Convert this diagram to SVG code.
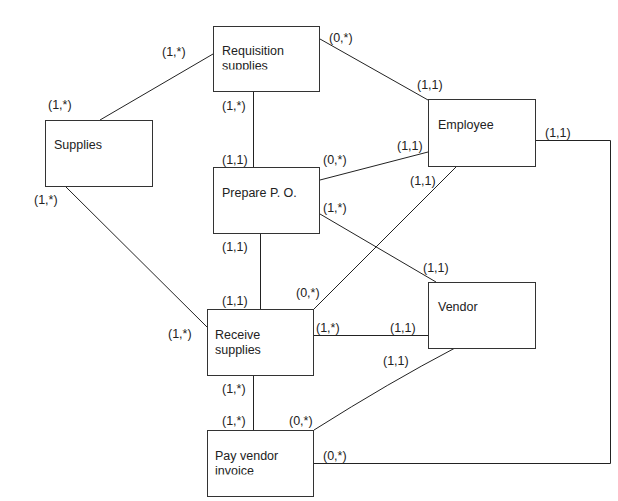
<svg xmlns="http://www.w3.org/2000/svg" width="618" height="501" viewBox="0 0 618 501">
<style>
.box{fill:#fff;stroke:#333;stroke-width:1}
.ln{fill:none;stroke:#222;stroke-width:1}
text{font-family:"Liberation Sans",Arial,sans-serif;font-size:12.5px;fill:#222}
</style>
<defs>
<clipPath id="c1"><rect x="213" y="26" width="107" height="43.5"/></clipPath>
<clipPath id="c2"><rect x="207" y="430" width="107" height="44.5"/></clipPath>
</defs>
<rect width="618" height="501" fill="#fff"/>
<g id="connectors">
<line class="ln" x1="100" y1="120" x2="213" y2="54"/>
<line class="ln" x1="253.5" y1="92" x2="253.5" y2="167"/>
<line class="ln" x1="320" y1="39" x2="428" y2="100"/>
<line class="ln" x1="320" y1="180" x2="428" y2="152"/>
<line class="ln" x1="456" y1="167" x2="314" y2="309"/>
<line class="ln" x1="320" y1="214" x2="436" y2="282"/>
<line class="ln" x1="66" y1="187" x2="207" y2="327"/>
<line class="ln" x1="260.5" y1="234" x2="260.5" y2="309"/>
<line class="ln" x1="314" y1="335.5" x2="428" y2="335.5"/>
<line class="ln" x1="253.5" y1="375" x2="253.5" y2="430"/>
<path class="ln" d="M455,348 Q390,382 314,430"/>
<polyline class="ln" points="536,140.5 610.5,140.5 610.5,463.5 314,463.5"/>
</g>
<g id="requisition">
<rect class="box" x="213.5" y="26.5" width="106" height="65"/>
<g clip-path="url(#c1)"><text x="222" y="55">Requisition</text><text x="222" y="70">supplies</text></g>
</g>
<g id="supplies">
<rect class="box" x="45.5" y="120.5" width="107" height="66"/>
<text x="54" y="149">Supplies</text>
</g>
<g id="prepare">
<rect class="box" x="213.5" y="167.5" width="106" height="66"/>
<text x="222" y="197">Prepare P. O.</text>
</g>
<g id="employee">
<rect class="box" x="428.5" y="99.5" width="107" height="67"/>
<text x="438" y="129">Employee</text>
</g>
<g id="vendor">
<rect class="box" x="428.5" y="282.5" width="107" height="66"/>
<text x="438" y="311">Vendor</text>
</g>
<g id="receive">
<rect class="box" x="207.5" y="309.5" width="106" height="66"/>
<text x="215" y="339">Receive</text>
<text x="215" y="354">supplies</text>
</g>
<g id="payvendor">
<rect class="box" x="207.5" y="430.5" width="106" height="66"/>
<g clip-path="url(#c2)"><text x="215" y="460">Pay vendor</text><text x="215" y="475">invoice</text></g>
</g>
<g id="labels">
<text x="162" y="56">(1,*)</text>
<text x="48" y="109">(1,*)</text>
<text x="222" y="110">(1,*)</text>
<text x="222" y="164">(1,1)</text>
<text x="34" y="204">(1,*)</text>
<text x="329" y="42">(0,*)</text>
<text x="417" y="89">(1,1)</text>
<text x="545" y="137">(1,1)</text>
<text x="397" y="150">(1,1)</text>
<text x="323" y="164">(0,*)</text>
<text x="410" y="185">(1,1)</text>
<text x="323" y="212">(1,*)</text>
<text x="423" y="272">(1,1)</text>
<text x="296" y="297">(0,*)</text>
<text x="222" y="251">(1,1)</text>
<text x="222" y="305">(1,1)</text>
<text x="168" y="338">(1,*)</text>
<text x="316" y="332">(1,*)</text>
<text x="390" y="332">(1,1)</text>
<text x="383" y="365">(1,1)</text>
<text x="222" y="393">(1,*)</text>
<text x="222" y="425">(1,*)</text>
<text x="289" y="425">(0,*)</text>
<text x="323" y="460">(0,*)</text>
</g>
</svg>
